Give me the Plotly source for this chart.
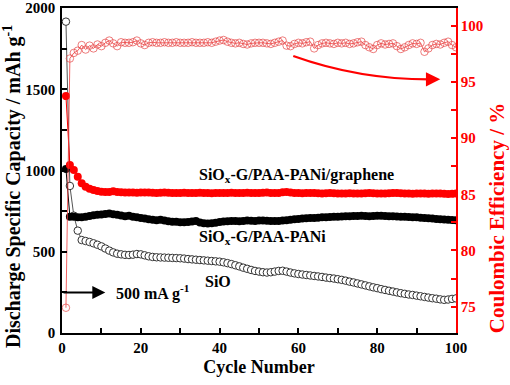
import plotly.graph_objects as go

cycles = list(range(1, 101))

sio = [1916, 905, 722, 630, 572, 566, 560, 552, 543, 533,
       520, 507, 496, 488, 484, 481, 480, 482, 486, 484,
       478, 472, 468, 466, 465, 464, 463, 462, 461, 460,
       458, 455, 453, 451, 449, 447, 445, 443, 441, 439,
       435, 430, 424, 417, 410, 402, 395, 388, 382, 378,
       374, 372, 374, 378, 382, 383, 378, 372, 367, 363,
       360, 357, 354, 351, 348, 345, 341, 338, 335, 331,
       327, 322, 316, 311, 305, 299, 293, 287, 281, 276,
       270, 265, 260, 255, 250, 245, 241, 237, 234, 230,
       226, 222, 218, 214, 211, 207, 204, 206, 210, 213]

pani = [1010, 716, 715, 712, 712, 716, 720, 724, 727, 729,
        732, 735, 731, 727, 723, 719, 722, 716, 712, 708,
        704, 700, 697, 694, 697, 692, 688, 685, 684, 682,
        681, 683, 686, 690, 680, 676, 674, 676, 679, 683,
        686, 688, 690, 689, 688, 690, 692, 691, 690, 692,
        693, 691, 690, 689, 690, 692, 694, 697, 700, 702,
        704, 706, 708, 708, 710, 712, 713, 714, 715, 716,
        717, 718, 719, 720, 720, 721, 720, 719, 720, 721,
        722, 720, 719, 718, 717, 716, 715, 714, 713, 712,
        710, 708, 706, 704, 702, 700, 698, 697, 695, 694]

graphene = [1458, 1034, 1003, 962, 921, 900, 888, 880, 874, 870,
            868, 867, 872, 868, 866, 865, 864, 864, 863, 864,
            865, 864, 863, 862, 863, 864, 863, 862, 861, 862,
            863, 862, 861, 862, 863, 862, 861, 860, 861, 862,
            861, 862, 863, 862, 861, 862, 863, 862, 861, 862,
            863, 864, 862, 861, 862, 866, 868, 864, 862, 861,
            860, 861, 862, 861, 860, 859, 860, 861, 860, 859,
            858, 859, 860, 859, 858, 859, 860, 861, 860, 859,
            858, 859, 860, 861, 862, 860, 859, 858, 857, 858,
            859, 858, 857, 858, 859, 858, 857, 856, 857, 858]

ce = [74.9, 97.1, 97.6, 97.8, 98.3, 97.9, 98.25, 98.0, 98.35, 98.2,
      98.5, 98.7, 98.45, 98.2, 98.55, 98.5, 98.5, 98.55, 98.7, 98.45,
      98.3, 98.5, 98.55, 98.5, 98.5, 98.55, 98.5, 98.5, 98.55, 98.5,
      98.5, 98.5, 98.55, 98.5, 98.5, 98.5, 98.55, 98.5, 98.6, 98.7,
      98.75, 98.6, 98.5, 98.45, 98.5, 98.4, 98.35, 98.45, 98.5, 98.5,
      98.5, 98.45, 98.4, 98.5, 98.6, 98.7, 98.25, 98.2, 98.4, 98.5,
      98.45, 98.55, 98.6, 98.0, 98.3, 98.45, 98.5, 98.45, 98.4, 98.5,
      98.45, 98.5, 98.4, 98.45, 98.55, 98.6, 98.3, 98.1, 97.95, 98.3,
      98.45, 98.35, 98.4, 98.45, 98.2, 97.95, 98.1, 98.3, 98.45, 98.4,
      98.5, 97.7, 98.0, 98.3, 98.4, 98.35, 98.5, 98.6, 98.3, 98.1]

FONT = "Liberation Serif"

fig = go.Figure()
fig.add_trace(go.Scatter(x=cycles, y=sio, mode="lines+markers",
                         line=dict(color="#555555", width=1),
                         marker=dict(symbol="circle", size=7.5, color="white",
                                     line=dict(color="#333333", width=1))))
fig.add_trace(go.Scatter(x=cycles, y=pani, mode="lines+markers",
                         line=dict(color="black", width=1),
                         marker=dict(symbol="circle", size=8, color="black")))
fig.add_trace(go.Scatter(x=cycles, y=graphene, mode="lines+markers",
                         line=dict(color="red", width=1),
                         marker=dict(symbol="circle", size=8, color="red")))
fig.add_trace(go.Scatter(x=cycles, y=ce, mode="lines+markers", yaxis="y2",
                         line=dict(color="rgba(240,60,60,0.8)", width=1),
                         marker=dict(symbol="circle-open", size=7.5,
                                     color="rgba(230,70,70,0.7)",
                                     line=dict(width=1))))

axis_common = dict(showgrid=False, zeroline=False, showline=True,
                   linewidth=1.5, ticks="inside", ticklen=5, tickwidth=1.5)

fig.update_layout(
    width=510, height=385,
    margin=dict(l=62, r=54, t=8, b=52),
    paper_bgcolor="white", plot_bgcolor="white",
    showlegend=False,
    font=dict(family=FONT, size=15, color="black", weight="bold"),
    xaxis=dict(range=[0, 100], dtick=20, tick0=0, linecolor="black",
               tickcolor="black", mirror=True,
               minor=dict(dtick=10, ticks="inside", ticklen=5,
                          tickwidth=1.5, tickcolor="black"),
               title=dict(text="Cycle Number", font=dict(size=18), standoff=6),
               automargin=False, **axis_common),
    yaxis=dict(range=[0, 2000], dtick=500, tick0=0, linecolor="black",
               tickcolor="black", ticklabelstandoff=2,
               minor=dict(dtick=250, ticks="inside", ticklen=5,
                          tickwidth=1.5, tickcolor="black"),
               automargin=False, **axis_common),
    yaxis2=dict(range=[72.65, 101.6], dtick=5, tick0=0, overlaying="y",
                side="right", linecolor="red", tickcolor="red",
                tickfont=dict(color="red"),
                minor=dict(dtick=2.5, ticks="inside", ticklen=5,
                           tickwidth=1.5, tickcolor="red"),
                automargin=False, **axis_common),
)

# Axis titles (placed as annotations to match the reference offsets)
fig.add_annotation(x=-0.127, y=0.452, xref="paper", yref="paper",
                   xanchor="center", yanchor="middle", textangle=-90,
                   text="Discharge Specific Capacity / mAh g<sup>-1</sup>",
                   showarrow=False, font=dict(size=20))
fig.add_annotation(x=1.103, y=0.352, xref="paper", yref="paper",
                   xanchor="center", yanchor="middle", textangle=-90,
                   text="Coulombic Efficiency / %",
                   showarrow=False, font=dict(size=21, color="red"))

# Labels
fig.add_annotation(x=34.3, y=972, xref="x", yref="y", xanchor="left",
                   text="SiO<sub>x</sub>-G/PAA-PANi/graphene", showarrow=False,
                   font=dict(size=16))
fig.add_annotation(x=34.3, y=590, xref="x", yref="y", xanchor="left",
                   text="SiO<sub>x</sub>-G/PAA-PANi", showarrow=False,
                   font=dict(size=16))
fig.add_annotation(x=35.8, y=320, xref="x", yref="y", xanchor="left",
                   text="SiO", showarrow=False, font=dict(size=16))

# Current density arrow
fig.add_annotation(x=11.0, y=250, ax=0, ay=250, xref="x", yref="y",
                   axref="x", ayref="y", text="", showarrow=True,
                   arrowhead=2, arrowsize=1.3, arrowwidth=2, arrowcolor="black")
fig.add_annotation(x=13.2, y=248, xref="x", yref="y", xanchor="left",
                   text="500 mA g<sup>-1</sup>", showarrow=False,
                   font=dict(size=16))

# Red curved arrow
fig.add_shape(type="path", xref="x", yref="y",
              path="M 58.7 1705 Q 75.6 1558 94.0 1561",
              line=dict(color="red", width=2.2))
fig.add_annotation(x=96.0, y=1561, ax=92.5, ay=1561, xref="x", yref="y",
                   axref="x", ayref="y", text="", showarrow=True,
                   arrowhead=2, arrowsize=1.3, arrowwidth=2.2, arrowcolor="red")

fig.write_html("out.html", config={"displayModeBar": False},
               post_script="document.body.style.margin='0';document.body.style.padding='0';")
